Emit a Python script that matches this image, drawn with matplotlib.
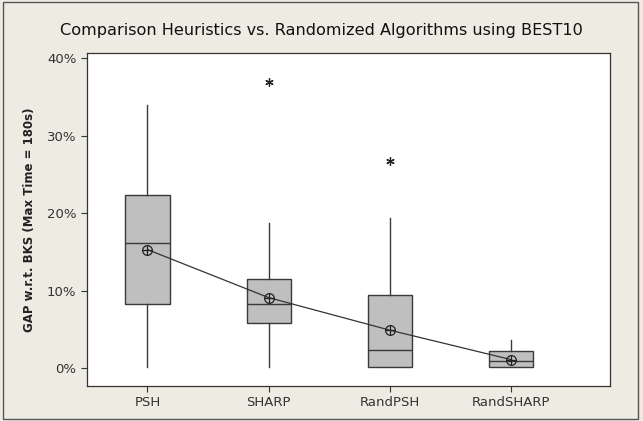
import numpy as np
import matplotlib.pyplot as plt
from matplotlib.patches import Rectangle

# data (percent)
labels = ['PSH', 'SHARP', 'RandPSH', 'RandSHARP']
q1 = [8.3, 5.8, 0.1, 0.1]
med = [16.1, 8.3, 2.4, 0.9]
q3 = [22.4, 11.5, 9.5, 2.2]
whislo = [0.2, 0.2, 0.1, 0.1]
whishi = [34.0, 18.7, 19.4, 3.7]
means = [15.3, 9.1, 4.9, 1.1]
outliers = [[], [36.9], [26.7], []]

bg = '#eeebe3'
fig = plt.figure(figsize=(6.43, 4.21), dpi=100, facecolor=bg)
ax = fig.add_axes([0.135, 0.084, 0.813, 0.789])

stats = []
for i in range(len(labels)):
    stats.append(dict(label=labels[i], q1=q1[i], med=med[i], q3=q3[i],
                      whislo=whislo[i], whishi=whishi[i], fliers=outliers[i]))

pos = np.arange(1, len(labels) + 1)
ax.bxp(stats, positions=pos, widths=0.365, showcaps=False, showfliers=True,
       patch_artist=True,
       boxprops=dict(facecolor='#bfbfbf', edgecolor='#3a3a3a', linewidth=1.0),
       medianprops=dict(color='#3a3a3a', linewidth=1.0),
       whiskerprops=dict(color='#3a3a3a', linewidth=1.0),
       flierprops=dict(marker=(6, 2, 0), markersize=6, markeredgecolor='#222222',
                       markeredgewidth=0.9, linestyle='none'))

# mean connect line with circle-cross symbols
ax.plot(pos, means, color='#333333', linewidth=0.9, zorder=4)
ax.plot(pos, means, linestyle='none', marker='o', markersize=7,
        markerfacecolor='none', markeredgecolor='#222222', markeredgewidth=0.9, zorder=5)
ax.plot(pos, means, linestyle='none', marker='+', markersize=7,
        markeredgecolor='#222222', markeredgewidth=0.9, zorder=5)

ax.set_xlim(0.5, 4.81)
ax.set_ylim(-2.25, 40.6)
ax.set_yticks([0, 10, 20, 30, 40])
ax.set_yticklabels(['0%', '10%', '20%', '30%', '40%'])
ax.set_xticks(pos)
ax.set_xticklabels(labels)
ax.tick_params(direction='out', length=4, width=0.8, color='#333333',
               labelsize=9.5, labelcolor='#333333')
for s in ax.spines.values():
    s.set_color('#333333')
    s.set_linewidth(0.9)

ax.set_ylabel('GAP w.r.t. BKS (Max Time = 180s)', fontsize=8.5, fontweight='bold',
              color='#222222', labelpad=8)
fig.text(0.5, 0.928, 'Comparison Heuristics vs. Randomized Algorithms using BEST10',
         ha='center', va='center', fontsize=11.6, color='#111111')

# outer frame
fig.patches.append(Rectangle((0.004, 0.004), 0.988, 0.992, transform=fig.transFigure,
                             fill=False, edgecolor='#555555', linewidth=1.0))

fig.savefig('out.png', dpi=100, facecolor=bg)
